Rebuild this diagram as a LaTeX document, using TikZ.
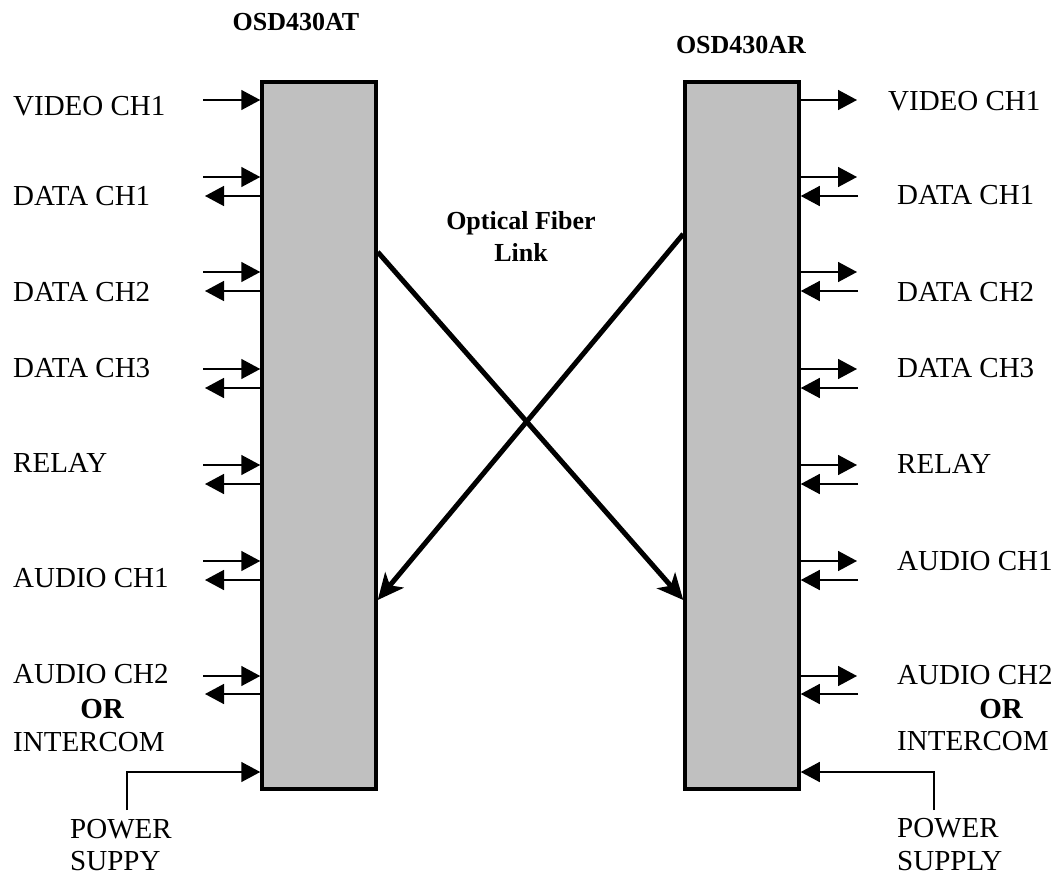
\documentclass[tikz,border=0pt]{standalone}
\usepackage{fontspec}
\setmainfont{Liberation Serif}
\usetikzlibrary{arrows.meta}
\definecolor{boxgray}{HTML}{C0C0C0}
\tikzset{
    unit/.style={
        draw, line width=3.5pt, fill=boxgray,
        minimum width=114pt, minimum height=707pt,
        inner sep=0pt
    },
    sig/.style={
        line width=1.5pt,
        -{Triangle[length=19pt,width=20pt]}
    },
    fiber/.style={
        line width=5pt,
        -{Stealth[length=26pt,width=24pt,inset=7pt]}
    },
    lbl/.style={font=\fontsize{29}{35}\selectfont, inner sep=0pt},
    ttl/.style={font=\fontsize{26}{32}\selectfont\bfseries, inner sep=0pt}
}

\begin{document}
\begin{tikzpicture}[x=1pt, y=-1pt]
    \useasboundingbox (0,0) rectangle (1056,877);

    % the two units
    \node[unit] (AT) at (319,435.5) {};
    \node[unit] (AR) at (742,435.5) {};
    \node[ttl, anchor=base] (tAT) at (296,31) {OSD430AT};
    \node[ttl, anchor=base] (tAR) at (741,54) {OSD430AR};

    % video
    \coordinate (lvin) at (203,100);
    \coordinate (rvout) at (857,100);
    \draw[sig] (lvin) -- (AT.west |- lvin);
    \draw[sig] (AR.east |- rvout) -- (rvout);

    % two way channels
    \foreach \n/\yi/\yo in {1/177/196, 2/272/291, 3/369/388, 4/465/484, 5/561/580, 6/676/694} {
        \coordinate (lin\n) at (203,\yi);
        \coordinate (lout\n) at (205,\yo);
        \coordinate (rout\n) at (857,\yi);
        \coordinate (rin\n) at (858,\yo);
        \draw[sig] (lin\n) -- (AT.west |- lin\n);
        \draw[sig] (AT.west |- lout\n) -- (lout\n);
        \draw[sig] (AR.east |- rout\n) -- (rout\n);
        \draw[sig] (rin\n) -- (AR.east |- rin\n);
    }

    % power
    \coordinate (lpwr) at (127,810);
    \coordinate (rpwr) at (934,810);
    \coordinate (lpy) at (0,772);
    \draw[sig] (lpwr) |- (AT.west |- lpy);
    \draw[sig] (rpwr) |- (AR.east |- lpy);

    % fiber link
    \coordinate (fa) at (0,252);
    \coordinate (fb) at (0,600);
    \coordinate (fc) at (0,234);
    \draw[fiber] (AT.east |- fa) -- (AR.west |- fb);
    \draw[fiber] (AR.west |- fc) -- (AT.east |- fb);
    \node[ttl, align=center] (link) at (521,236) {Optical Fiber\\Link};

    % left labels
    \node[lbl, anchor=base west] (l1) at (13,116) {VIDEO CH1};
    \node[lbl, anchor=base west] (l2) at (13,206) {DATA CH1};
    \node[lbl, anchor=base west] (l3) at (13,301) {DATA CH2};
    \node[lbl, anchor=base west] (l4) at (13,377) {DATA CH3};
    \node[lbl, anchor=base west] (l5) at (13,472) {RELAY};
    \node[lbl, anchor=base west] (l6) at (13,587) {AUDIO CH1};
    \node[lbl, anchor=base west] (l7) at (13,683) {AUDIO CH2};
    \node[lbl, anchor=base, font=\fontsize{29}{35}\selectfont\bfseries] (l8) at (102,718) {OR};
    \node[lbl, anchor=base west] (l9) at (13,751) {INTERCOM};
    \node[lbl, anchor=base west] (l10) at (70,838) {POWER};
    \node[lbl, anchor=base west] (l11) at (70,870) {SUPPY};

    % right labels
    \node[lbl, anchor=base west] (r1) at (888,111) {VIDEO CH1};
    \node[lbl, anchor=base west] (r2) at (897,205) {DATA CH1};
    \node[lbl, anchor=base west] (r3) at (897,301) {DATA CH2};
    \node[lbl, anchor=base west] (r4) at (897,377) {DATA CH3};
    \node[lbl, anchor=base west] (r5) at (897,473) {RELAY};
    \node[lbl, anchor=base west] (r6) at (897,570) {AUDIO CH1};
    \node[lbl, anchor=base west] (r7) at (897,684) {AUDIO CH2};
    \node[lbl, anchor=base, font=\fontsize{29}{35}\selectfont\bfseries] (r8) at (1001,718) {OR};
    \node[lbl, anchor=base west] (r9) at (897,750) {INTERCOM};
    \node[lbl, anchor=base west] (r10) at (897,837) {POWER};
    \node[lbl, anchor=base west] (r11) at (897,870) {SUPPLY};
\end{tikzpicture}
\end{document}
